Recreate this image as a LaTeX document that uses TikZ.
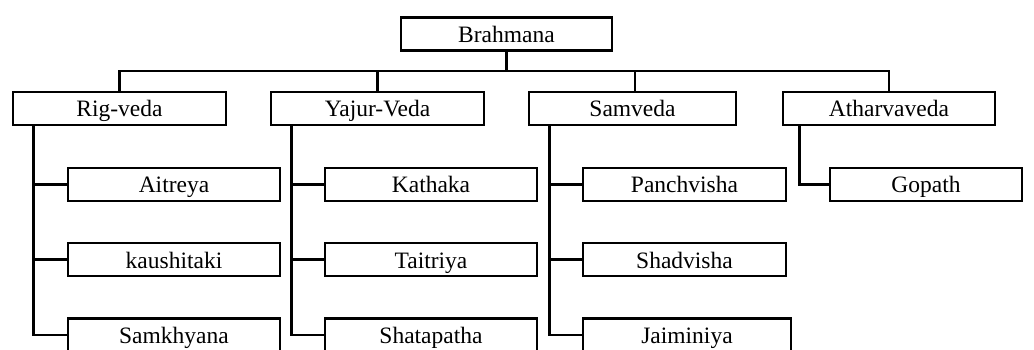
\documentclass[tikz,border=0pt]{standalone}
\usepackage{fontspec}
\setmainfont{Liberation Serif}
\begin{document}
\begin{tikzpicture}[x=1pt,y=-1pt,
  box/.style={draw=black, line width=2.6pt, rectangle, inner sep=0pt,
    minimum height=33pt, text height=22pt, text depth=5pt,
    font=\fontsize{23.5}{28}\selectfont, text=black},
  link/.style={draw=black, line width=2.6pt}]
\clip (0,0) rectangle (1034,350);
\fill[white] (0,0) rectangle (1034,350);
% top level
\node[box, minimum width=211pt] (brah) at (506.5,34) {Brahmana};
\node[box, minimum width=213pt] (rig) at (119.5,108.5) {Rig-veda};
\node[box, minimum width=213pt] (yaj) at (377.5,108.5) {Yajur-Veda};
\node[box, minimum width=207pt] (sam) at (632.5,108.5) {Samveda};
\node[box, minimum width=212pt] (ath) at (889,108.5) {Atharvaveda};
% children
\node[box, minimum width=212pt] (ait) at (174,184.5) {Aitreya};
\node[box, minimum width=212pt] (kau) at (174,259.5) {kaushitaki};
\node[box, minimum width=212pt] (smk) at (174,335) {Samkhyana};
\node[box, minimum width=212pt] (kat) at (431,184.5) {Kathaka};
\node[box, minimum width=212pt] (tai) at (431,259.5) {Taitriya};
\node[box, minimum width=212pt] (sha) at (431,335) {Shatapatha};
\node[box, minimum width=203pt] (pan) at (684.5,184.5) {Panchvisha};
\node[box, minimum width=203pt] (sha2) at (684.5,259.5) {Shadvisha};
\node[box, minimum width=208pt] (jai) at (687,335) {Jaiminiya};
\node[box, minimum width=192pt] (gop) at (926,184.5) {Gopath};
% bus
\coordinate (bus) at (506.5,71);
\draw[link] (brah.south) -- (bus);
\draw[link] (rig.north) |- (bus) -| (ath.north);
\draw[link] (yaj.north) -- (yaj.north |- bus);
\draw[link] (sam.north -| 635,0) -- (635,71);
% child connectors
\draw[link] ([xshift=22pt]rig.south west) |- (smk.west);
\draw[link] ([xshift=22pt]rig.south west |- ait.west) -- (ait.west);
\draw[link] ([xshift=22pt]rig.south west |- kau.west) -- (kau.west);
\draw[link] ([xshift=22pt]yaj.south west) |- (sha.west);
\draw[link] ([xshift=22pt]yaj.south west |- kat.west) -- (kat.west);
\draw[link] ([xshift=22pt]yaj.south west |- tai.west) -- (tai.west);
\draw[link] ([xshift=22pt]sam.south west) |- (jai.west);
\draw[link] ([xshift=22pt]sam.south west |- pan.west) -- (pan.west);
\draw[link] ([xshift=22pt]sam.south west |- sha2.west) -- (sha2.west);
\draw[link] ([xshift=18pt]ath.south west) |- (gop.west);
\end{tikzpicture}
\end{document}
